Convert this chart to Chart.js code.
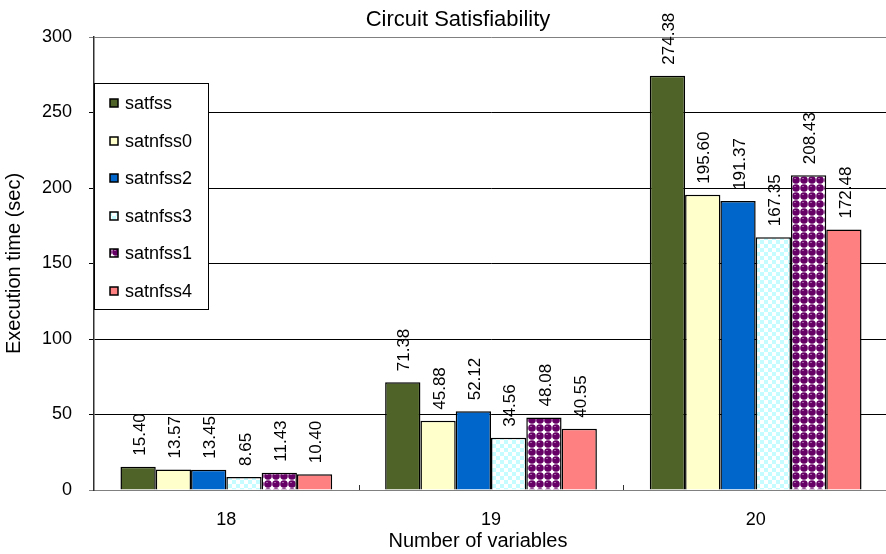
<!DOCTYPE html>
<html>
<head>
<meta charset="utf-8">
<style>
  html, body { margin: 0; padding: 0; background: #fff; overflow: hidden; width: 886px; height: 554px; }
  canvas { display: block; }
</style>
<script src="https://cdn.jsdelivr.net/npm/chart.js@4.4.1/dist/chart.umd.min.js"></script>
</head>
<body>
<canvas id="c" width="888" height="554"></canvas>
<script>
// Execution time (sec) by number of variables
const categories = ['18', '19', '20'];
const satfss   = [15.40, 71.38, 274.38];
const satnfss0 = [13.57, 45.88, 195.60];
const satnfss2 = [13.45, 52.12, 191.37];
const satnfss3 = [8.65, 34.56, 167.35];
const satnfss1 = [11.43, 48.08, 208.43];
const satnfss4 = [10.40, 40.55, 172.48];
const yTicks = [0, 50, 100, 150, 200, 250, 300];

const FONT = "'Liberation Sans', Arial, Helvetica, sans-serif";
const canvas = document.getElementById('c');
const ctx = canvas.getContext('2d');

// Fill patterns
function checkerPattern() {
  const t = document.createElement('canvas');
  t.width = 8; t.height = 8;
  const g = t.getContext('2d');
  g.fillStyle = '#ffffff'; g.fillRect(0, 0, 8, 8);
  g.fillStyle = '#C4FCFF';
  g.fillRect(0, 0, 4, 4); g.fillRect(4, 4, 4, 4);
  return ctx.createPattern(t, 'repeat');
}
function spherePattern() {
  const t = document.createElement('canvas');
  t.width = 8; t.height = 8;
  const g = t.getContext('2d');
  g.fillStyle = '#ffffff'; g.fillRect(0, 0, 8, 8);
  g.fillStyle = '#660066';
  g.beginPath(); g.arc(4, 4, 3.8, 0, Math.PI * 2); g.fill();
  g.fillStyle = '#a060a0';
  g.fillRect(2, 2, 2, 1);
  return ctx.createPattern(t, 'repeat');
}

const series = [
  { label: 'satfss',   data: satfss,   color: '#4F6228' },
  { label: 'satnfss0', data: satnfss0, color: '#FFFFCC' },
  { label: 'satnfss2', data: satnfss2, color: '#0066CC' },
  { label: 'satnfss3', data: satnfss3, color: checkerPattern() },
  { label: 'satnfss1', data: satnfss1, color: spherePattern() },
  { label: 'satnfss4', data: satnfss4, color: '#FF8080' }
];

// Chart title and x-axis caption
const captions = {
  id: 'captions',
  afterDraw(chart) {
    const c = chart.ctx;
    c.save();
    c.fillStyle = '#000';
    c.textAlign = 'center';
    c.textBaseline = 'middle';
    c.font = '22px ' + FONT;
    c.fillText('Circuit Satisfiability', 458, 20);
    c.font = '20px ' + FONT;
    c.fillText('Number of variables', 478, 541);
    c.restore();
  }
};

// Value labels written upward above each bar
const valueLabels = {
  id: 'valueLabels',
  afterDatasetsDraw(chart) {
    const c = chart.ctx;
    c.save();
    c.font = '17px ' + FONT;
    c.fillStyle = '#000';
    chart.data.datasets.forEach((ds, i) => {
      chart.getDatasetMeta(i).data.forEach((bar, j) => {
        c.save();
        c.translate(bar.x + 2, bar.y - 11);
        c.rotate(-Math.PI / 2);
        c.textAlign = 'left';
        c.textBaseline = 'middle';
        c.fillText(ds.data[j].toFixed(2), 0, 0);
        c.restore();
      });
    });
    c.restore();
  }
};

// Small tick marks between category groups on the x axis
const groupTicks = {
  id: 'groupTicks',
  afterDatasetsDraw(chart) {
    const x = chart.scales.x;
    const c = chart.ctx;
    const bottom = chart.chartArea.bottom;
    c.save();
    c.strokeStyle = '#333';
    c.lineWidth = 1;
    for (let j = 1; j < categories.length; j++) {
      const px = Math.round((x.getPixelForValue(j - 1) + x.getPixelForValue(j)) / 2) + 0.5;
      c.beginPath();
      c.moveTo(px, bottom);
      c.lineTo(px, bottom - 5);
      c.stroke();
    }
    c.restore();
  }
};

// Boxed legend inside the plot area
const boxLegend = {
  id: 'boxLegend',
  afterDraw(chart) {
    const c = chart.ctx;
    const left = chart.chartArea.left;
    c.save();
    c.fillStyle = '#fff';
    c.strokeStyle = '#000';
    c.lineWidth = 1;
    c.fillRect(left + 0.5, 83.5, 114, 226);
    c.strokeRect(left + 0.5, 83.5, 114, 226);
    c.font = '18px ' + FONT;
    c.textAlign = 'left';
    c.textBaseline = 'middle';
    chart.data.datasets.forEach((ds, i) => {
      const cy = Math.round(103 + i * 37.6);
      c.fillStyle = ds.backgroundColor;
      c.fillRect(left + 16, cy - 4, 8, 8);
      c.strokeStyle = '#000';
      c.lineWidth = 1.5;
      c.strokeRect(left + 16, cy - 4, 8, 8);
      c.fillStyle = '#000';
      c.fillText(ds.label, left + 31, cy + 1);
    });
    c.restore();
  }
};

new Chart(canvas, {
  type: 'bar',
  data: {
    labels: categories,
    datasets: series.map(s => ({
      label: s.label,
      data: s.data,
      backgroundColor: s.color,
      borderColor: '#000',
      borderWidth: 1.5,
      borderSkipped: 'bottom',
      categoryPercentage: 0.8,
      barPercentage: 1.0
    }))
  },
  options: {
    responsive: false,
    animation: false,
    devicePixelRatio: 1,
    layout: { padding: { top: 37, right: 0, bottom: 0, left: 0 } },
    plugins: {
      legend: { display: false },
      title: { display: false },
      tooltip: { enabled: false }
    },
    scales: {
      x: {
        grid: { display: true, drawOnChartArea: false, drawTicks: false },
        border: { display: true, color: '#808080', width: 1 },
        ticks: { color: '#000', font: { family: FONT, size: 18 }, padding: 19 },
        title: { display: false },
        afterFit(scale) { scale.height = 64; }
      },
      y: {
        min: yTicks[0],
        max: yTicks[yTicks.length - 1],
        ticks: {
          stepSize: yTicks[1] - yTicks[0],
          color: '#000',
          font: { family: FONT, size: 18 },
          padding: 17
        },
        grid: {
          color: c => (c.tick && (c.tick.value === yTicks[yTicks.length - 1] || c.tick.value === 0)) ? '#808080' : '#000',
          lineWidth: 1,
          tickLength: 5
        },
        border: { display: true, color: '#303030', width: 1.5 },
        title: {
          display: true, text: 'Execution time (sec)', color: '#000',
          font: { family: FONT, size: 20 }, padding: { top: 2, bottom: 0 }
        },
        afterFit(scale) { scale.width = 94; }
      }
    }
  },
  plugins: [valueLabels, groupTicks, boxLegend, captions]
});
</script>
</body>
</html>
